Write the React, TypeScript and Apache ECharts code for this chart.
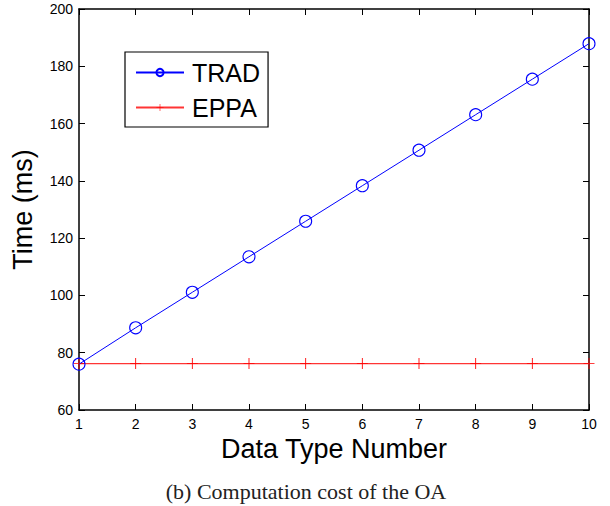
import React, { useEffect, useRef } from "react";
import * as echarts from "echarts";

const xValues = [1, 2, 3, 4, 5, 6, 7, 8, 9, 10];
const tradValues = [76, 88.7, 101.1, 113.5, 125.9, 138.3, 150.7, 163.1, 175.5, 187.9];
const eppaValues = [76.2, 76.2, 76.2, 76.2, 76.2, 76.2, 76.2, 76.2, 76.2, 76.2];
const seriesNames = ["TRAD", "EPPA"];
const xAxisName = "Data Type Number";
const yAxisName = "Time (ms)";
const caption = "(b) Computation cost of the OA";

const plusPath = "path://M4.6,0h0.8v10h-0.8zM0,4.6h10v0.8h-10z";

export default function App() {
  const ref = useRef<HTMLDivElement>(null);
  useEffect(() => {
    if (!ref.current) return;
    const chart = echarts.init(ref.current, undefined, { renderer: "svg" });
    const font = "Liberation Sans, Arial, sans-serif";
    const axisCommon = {
      type: "value" as const,
      axisLine: { show: true, lineStyle: { color: "#000", width: 1.5 } },
      axisTick: { show: true, inside: true, length: 6, lineStyle: { color: "#000" } },
      splitLine: { show: false },
    };
    chart.setOption({
      animation: false,
      backgroundColor: "#fff",
      graphic: [
        {
          type: "text",
          x: 306,
          y: 491,
          style: {
            text: caption,
            fontFamily: "Liberation Serif, Times New Roman, serif",
            fontSize: 22,
            fill: "#222",
            textAlign: "center",
            textVerticalAlign: "middle",
          },
        },
      ],
      grid: { left: 79, top: 9, width: 510, height: 401, containLabel: false },
      legend: {
        data: seriesNames,
        orient: "vertical",
        left: 125,
        top: 52,
        itemWidth: 48,
        itemHeight: 9,
        itemGap: 10,
        padding: [8, 8, 7, 10],
        borderColor: "#000",
        borderWidth: 1.2,
        borderRadius: 0,
        backgroundColor: "#fff",
        textStyle: { fontFamily: font, fontSize: 25, color: "#000", padding: [0, 0, 0, 3] },
      },
      xAxis: [
        {
          ...axisCommon,
          min: 1,
          max: 10,
          interval: 1,
          position: "bottom",
          name: xAxisName,
          nameLocation: "middle",
          nameGap: 24,
          nameTextStyle: { fontFamily: font, fontSize: 27, color: "#000", verticalAlign: "top" },
          axisLabel: { fontFamily: font, fontSize: 14, color: "#000", margin: 7 },
        },
        {
          ...axisCommon,
          min: 1,
          max: 10,
          interval: 1,
          position: "top",
          axisLabel: { show: false },
        },
      ],
      yAxis: [
        {
          ...axisCommon,
          min: 60,
          max: 200,
          interval: 20,
          position: "left",
          name: yAxisName,
          nameLocation: "middle",
          nameGap: 43,
          nameTextStyle: { fontFamily: font, fontSize: 27, color: "#000" },
          axisLabel: { fontFamily: font, fontSize: 14, color: "#000", margin: 6 },
        },
        {
          ...axisCommon,
          min: 60,
          max: 200,
          interval: 20,
          position: "right",
          axisLabel: { show: false },
        },
      ],
      series: [
        {
          name: seriesNames[1],
          type: "line",
          data: xValues.map((x, i) => [x, eppaValues[i]]),
          symbol: plusPath,
          symbolSize: 11,
          lineStyle: { color: "#ff3535", width: 1.4 },
          itemStyle: { color: "#ff0000" },
          z: 2,
        },
        {
          name: seriesNames[0],
          type: "line",
          data: xValues.map((x, i) => [x, tradValues[i]]),
          symbol: "circle",
          symbolSize: 12,
          lineStyle: { color: "#0000ff", width: 1 },
          itemStyle: { color: "rgba(255,255,255,0)", borderColor: "#0000ff", borderWidth: 1.1 },
          z: 3,
        },
      ],
    });
    return () => chart.dispose();
  }, []);
  return <div ref={ref} style={{ position: "fixed", left: 0, top: 0, width: 610, height: 506 }} />;
}
